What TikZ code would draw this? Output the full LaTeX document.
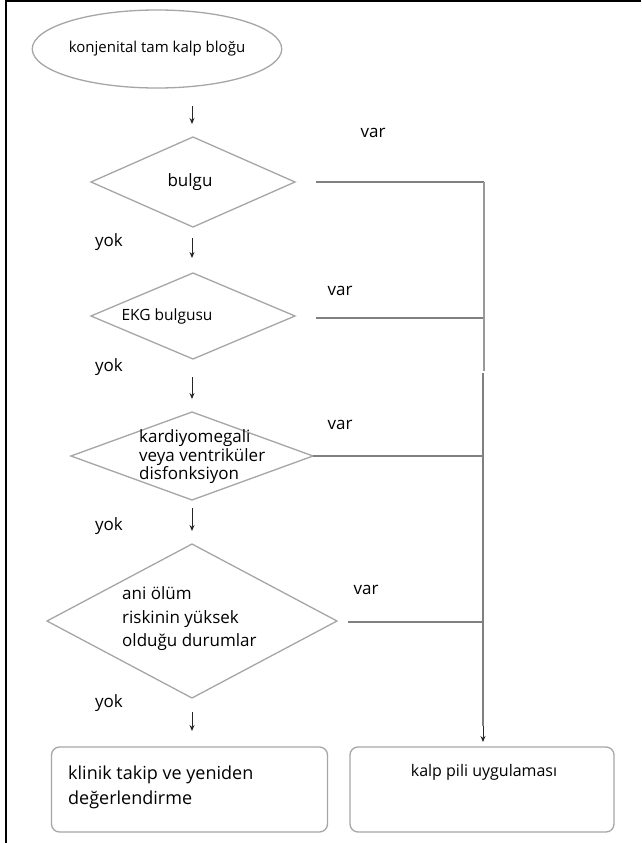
\documentclass[tikz,border=0pt]{standalone}
\usepackage{fontspec}
\setmainfont{Open Sans}
\usetikzlibrary{shapes.geometric,arrows.meta}
\begin{document}
\begin{tikzpicture}[x=1pt,y=-1pt,
  shapeline/.style={draw=black!35, line width=1.3pt, outer sep=0pt, inner sep=0pt},
  conn/.style={draw=black!50, line width=1.5pt},
  arr/.style={draw=black!85, line width=0.9pt, -{Stealth[length=6pt,width=5pt]}},
  txt/.style={font=\fontsize{17}{20}\selectfont, inner sep=0pt, text=black},
  dia/.style={diamond, shapeline}]
\useasboundingbox[fill=white] (0,0) rectangle (641,843);
\draw[line width=1.5pt] (6,843) -- (6,1) -- (641,1);

% start
\node[ellipse, shapeline, minimum width=224pt, minimum height=78pt,
      font=\fontsize{15}{18}\selectfont] (start) at (157,49) {konjenital tam kalp bloğu};

% diamonds
\node[dia, minimum width=204pt, minimum height=90pt] (d1) at (193,182) {};
\node[dia, minimum width=204pt, minimum height=86pt] (d2) at (193,316) {};
\node[dia, minimum width=242pt, minimum height=88pt] (d3) at (192,456) {};
\node[dia, minimum width=290pt, minimum height=154pt] (d4) at (192,621) {};

\node[txt] (t1) at (190,182) {bulgu};
\node[txt, font=\fontsize{15.5}{18}\selectfont] (t2) at (167,316) {EKG bulgusu};
\node[txt, anchor=west, align=left, font=\fontsize{17}{18.5}\selectfont] (t3) at (139,457)
  {kardiyomegali\\veya ventriküler\\disfonksiyon};
\node[txt, anchor=west, align=left, font=\fontsize{17}{23.5}\selectfont] (t4) at (122,619)
  {ani ölüm\\riskinin yüksek\\olduğu durumlar};

% boxes
\node[rectangle, rounded corners=8pt, shapeline, minimum width=276pt, minimum height=85pt] (b1) at (189.5,789.5) {};
\node[rectangle, rounded corners=8pt, shapeline, minimum width=264pt, minimum height=85pt] (b2) at (482,789.5) {};
\node[txt, anchor=west, align=left, font=\fontsize{18}{25}\selectfont] (t5) at (68,787)
  {klinik takip ve yeniden\\değerlendirme};
\node[txt, font=\fontsize{16}{19}\selectfont] (t6) at (484,772) {kalp pili uygulaması};

% labels
\node[txt] (v1) at (373,133) {var};
\node[txt] (v2) at (340,291) {var};
\node[txt] (v3) at (340,425) {var};
\node[txt] (v4) at (366,590) {var};
\node[txt] (y1) at (109,242) {yok};
\node[txt] (y2) at (109,367) {yok};
\node[txt] (y3) at (109,526) {yok};
\node[txt] (y4) at (109,703) {yok};

% down arrows
\coordinate (a1s) at (192,106); \coordinate (a1e) at (192,124);
\coordinate (a2s) at (192,238); \coordinate (a2e) at (192,258);
\coordinate (a3s) at (192,377); \coordinate (a3e) at (192,399);
\coordinate (a4s) at (192,508); \coordinate (a4e) at (192,531);
\coordinate (a5s) at (192,712); \coordinate (a5e) at (192,731);
\draw[arr] (a1s) -- (a1e);
\draw[arr] (a2s) -- (a2e);
\draw[arr] (a3s) -- (a3e);
\draw[arr] (a4s) -- (a4e);
\draw[arr] (a5s) -- (a5e);

% var branches
\coordinate (h1s) at (316,182); \coordinate (j1) at (484,182);
\coordinate (h2s) at (316,318); \coordinate (j2) at (484,318);
\coordinate (j3) at (484,456);
\coordinate (h4s) at (348,622); \coordinate (j4) at (483,622);
\coordinate (jm) at (484,371);
\coordinate (jm2) at (483,373);
\coordinate (pa) at (483,726);
\coordinate (pe) at (483,742);
\draw[conn] (h1s) -- (j1);
\draw[conn] (h2s) -- (j2);
\draw[conn] (d3.east) -- (j3);
\draw[conn] (h4s) -- (j4);
\draw[conn, draw=black!40, line width=2.5pt] (j1) -- (jm);
\draw[conn] (jm2) -- (pa);
\draw[arr] (pa) -- (pe);
\end{tikzpicture}
\end{document}
